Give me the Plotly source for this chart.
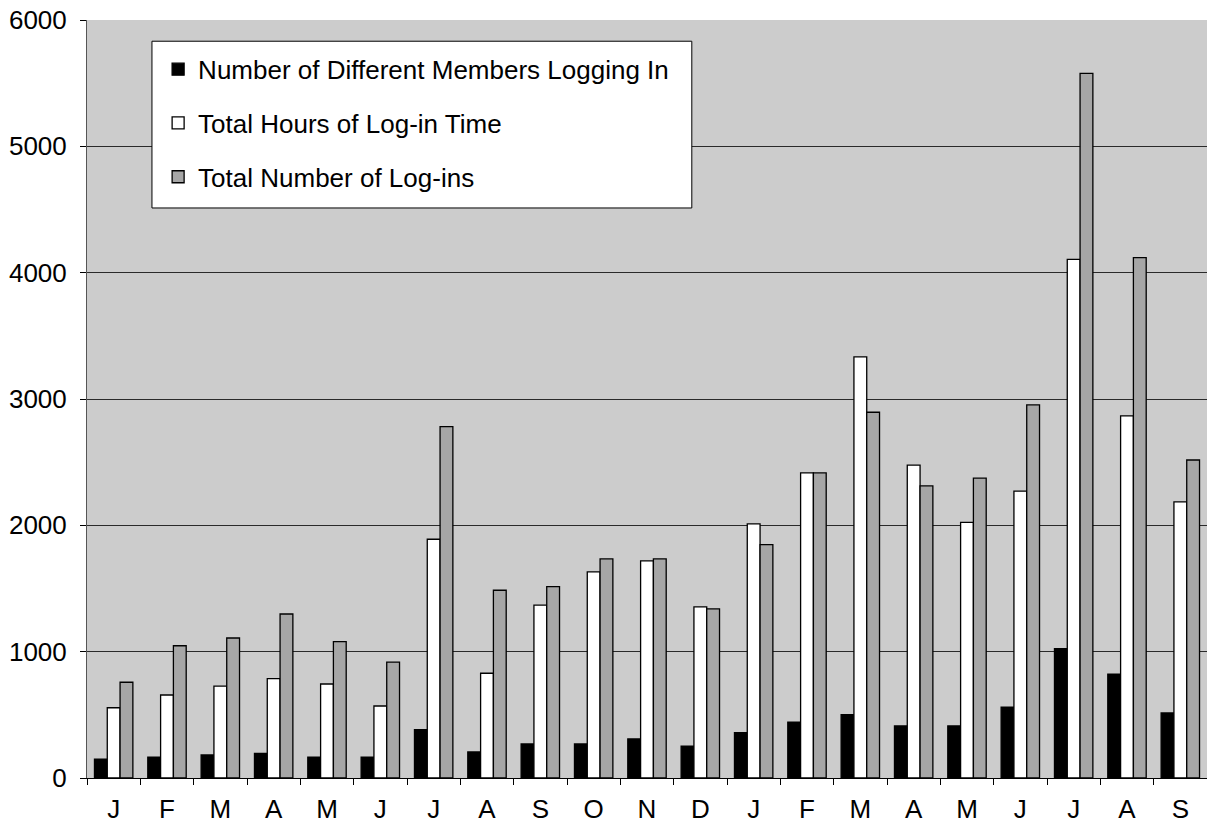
import plotly.graph_objects as go

# Month initials along the x axis (21 consecutive months)
months = ["J", "F", "M", "A", "M", "J", "J", "A", "S", "O", "N", "D",
          "J", "F", "M", "A", "M", "J", "J", "A", "S"]

members = [150, 166, 182, 195, 166, 166, 382, 206, 269, 269, 309, 253,
           359, 443, 501, 412, 412, 560, 1024, 823, 515]
hours = [556, 657, 728, 786, 744, 570, 1890, 829, 1369, 1631, 1718, 1354,
         2011, 2415, 3333, 2476, 2024, 2270, 4106, 2866, 2185]
logins = [758, 1047, 1108, 1298, 1079, 918, 2781, 1486, 1515, 1734, 1734, 1338,
          1847, 2415, 2895, 2312, 2373, 2953, 5578, 4119, 2517]

series_names = ["Number of Different Members Logging In",
                "Total Hours of Log-in Time",
                "Total Number of Log-ins"]
series_values = [members, hours, logins]
series_colors = ["#000000", "#ffffff", "#a6a6a6"]

x = list(range(len(months)))
FONT = "Arial, Liberation Sans, Helvetica, sans-serif"

fig = go.Figure()
for i, (name, vals, col) in enumerate(zip(series_names, series_values, series_colors)):
    fig.add_trace(go.Bar(
        x=x, y=vals, name=name,
        marker=dict(color=col, line=dict(color="#000000", width=1.3)),
        legendgroup=f"g{i}",
    ))

# white legend panel behind the legend entries
fig.add_shape(type="rect", xref="paper", yref="paper",
              x0=0.058, x1=0.540, y0=0.752, y1=0.972,
              fillcolor="#ffffff", line=dict(color="#000000", width=1),
              layer="above")

fig.update_layout(
    width=1207, height=827,
    margin=dict(l=87, r=0, t=20, b=49),
    paper_bgcolor="#ffffff",
    plot_bgcolor="#cccccc",
    barmode="group",
    bargap=0.28,
    bargroupgap=0,
    font=dict(family=FONT, color="#000000"),
    showlegend=True,
    legend=dict(
        x=0.0635, y=0.966, xanchor="left", yanchor="top",
        bgcolor="rgba(0,0,0,0)", borderwidth=0,
        font=dict(size=26, family=FONT, color="#000000"),
        traceorder="grouped", tracegroupgap=17,
    ),
    xaxis=dict(
        range=[-0.5, len(months) - 0.5],
        tickmode="array", tickvals=x, ticktext=months,
        ticks="", showgrid=False,
        showline=True, linecolor="#000000", linewidth=1,
        tickfont=dict(size=26, family=FONT, color="#000000"),
        ticklabelstandoff=8,
        minor=dict(tickmode="array",
                   tickvals=[v - 0.5 for v in x] + [len(months) - 0.5],
                   ticks="outside", ticklen=6, tickcolor="#000000",
                   tickwidth=1, showgrid=False),
        fixedrange=True,
    ),
    yaxis=dict(
        range=[0, 6000], dtick=1000, tick0=0,
        showgrid=True, gridcolor="#2a2a2a", gridwidth=1,
        zeroline=False,
        showline=True, linecolor="#555555", linewidth=1,
        ticks="outside", ticklen=6, tickcolor="#000000", tickwidth=1,
        tickfont=dict(size=26, family=FONT, color="#000000"),
        ticklabelstandoff=8,
        fixedrange=True,
    ),
)

fig.write_html("out.html")
